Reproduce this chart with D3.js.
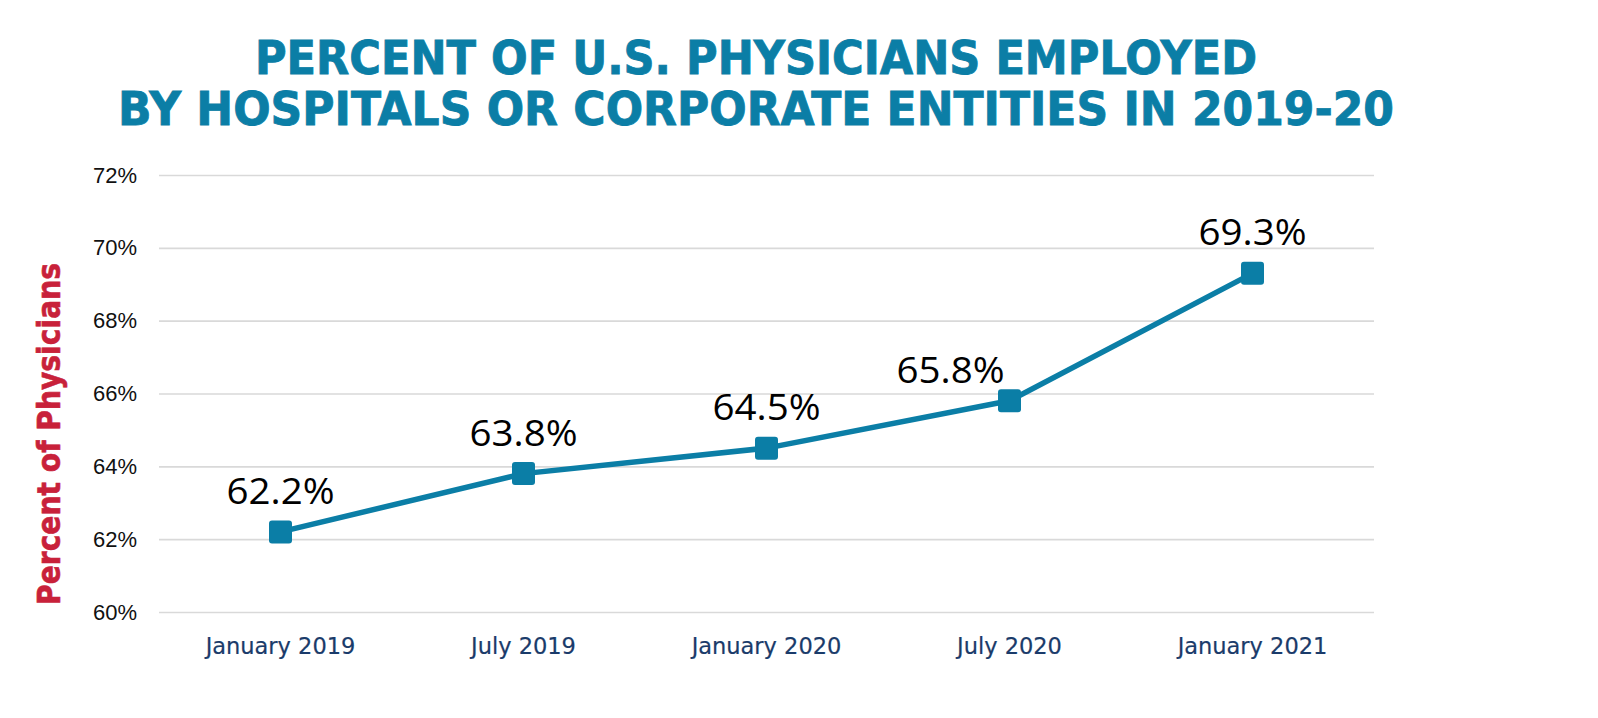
<!DOCTYPE html>
<html>
<head>
<meta charset="utf-8">
<script src="https://cdn.jsdelivr.net/npm/d3@7"></script>
<style>
  html, body { margin: 0; padding: 0; background: #ffffff; }
  svg { display: block; }
</style>
</head>
<body>
<svg id="chart" width="1598" height="718"></svg>
<script>
// ---- data ----
const categories = ["January 2019", "July 2019", "January 2020", "July 2020", "January 2021"];
const values = [62.2, 63.8, 64.5, 65.8, 69.3];
const yTicks = [60, 62, 64, 66, 68, 70, 72];
const titleLines = ["PERCENT OF U.S. PHYSICIANS EMPLOYED", "BY HOSPITALS OR CORPORATE ENTITIES IN 2019-20"];
const yTitle = "Percent of Physicians";

// ---- layout / style ----
const W = 1598, H = 718;
const plot = { left: 159, right: 1374, top: 175, bottom: 612 };
const blue = "#0b7ea6", red = "#c8213a", navy = "#1a3b6a";
// per-label placement (dx, dy of baseline relative to marker centre)
const labelPlacement = [[0, -28], [0, -28], [0, -28], [-59, -18], [0, -28]];

const svg = d3.select("#chart");
svg.append("rect").attr("width", W).attr("height", H).attr("fill", "#fff");

const x = d3.scaleBand().domain(categories).range([plot.left, plot.right]).padding(0);
const y = d3.scaleLinear().domain([60, 72]).range([plot.bottom, plot.top]);
const cx = c => x(c) + x.bandwidth() / 2;

// title
const titleTargets = [1002, 1276];
const titleBase = [74, 125];
titleLines.forEach((t, i) => {
  svg.append("text")
    .attr("x", 756).attr("y", titleBase[i])
    .attr("text-anchor", "middle")
    .attr("font-family", "'DejaVu Sans', Verdana, sans-serif")
    .attr("font-weight", "bold")
    .attr("font-size", 47)
    .attr("fill", blue)
    .attr("stroke", blue)
    .attr("stroke-width", 0.9)
    .attr("textLength", titleTargets[i])
    .attr("lengthAdjust", "spacingAndGlyphs")
    .text(t);
});

// y axis with gridlines
const yAxis = d3.axisLeft(y)
  .tickValues(yTicks)
  .tickSize(-(plot.right - plot.left))
  .tickPadding(22)
  .tickFormat(d => d + "%");
const gy = svg.append("g").attr("transform", `translate(${plot.left},0)`).call(yAxis);
gy.select(".domain").remove();
gy.selectAll(".tick line").attr("stroke", "#d9d9d9").attr("stroke-width", 1.6);
gy.selectAll(".tick text")
  .attr("font-family", "'Liberation Sans', Arial, sans-serif")
  .attr("font-size", 22)
  .attr("fill", "#111");

// x axis
const xAxis = d3.axisBottom(x).tickSize(0).tickPadding(26);
const gx = svg.append("g").attr("transform", `translate(0,${plot.bottom})`).call(xAxis);
gx.select(".domain").remove();
gx.selectAll(".tick text")
  .attr("font-family", "'DejaVu Sans', Tahoma, sans-serif")
  .attr("font-size", 22.5)
  .attr("fill", navy)
  .attr("stroke", navy)
  .attr("stroke-width", 0.2);

// y title
svg.append("text")
  .attr("transform", "translate(60,434) rotate(-90)")
  .attr("text-anchor", "middle")
  .attr("font-family", "'DejaVu Sans', Verdana, sans-serif")
  .attr("font-weight", "bold")
  .attr("font-size", 32)
  .attr("fill", red)
  .attr("stroke", red)
  .attr("stroke-width", 0.6)
  .attr("textLength", 342)
  .attr("lengthAdjust", "spacingAndGlyphs")
  .text(yTitle);

// line
const pts = categories.map((c, i) => ({ c, v: values[i], i }));
svg.append("path")
  .datum(pts)
  .attr("fill", "none")
  .attr("stroke", blue)
  .attr("stroke-width", 5.5)
  .attr("stroke-linejoin", "round")
  .attr("d", d3.line().x(d => cx(d.c)).y(d => y(d.v)));

// markers
const ms = 23;
svg.selectAll("rect.marker").data(pts).enter().append("rect")
  .attr("class", "marker")
  .attr("x", d => cx(d.c) - ms / 2)
  .attr("y", d => y(d.v) - ms / 2)
  .attr("width", ms).attr("height", ms)
  .attr("rx", 3).attr("ry", 3)
  .attr("fill", blue);

// data labels
svg.selectAll("text.lbl").data(pts).enter().append("text")
  .attr("class", "lbl")
  .attr("x", d => cx(d.c) + labelPlacement[d.i][0])
  .attr("y", d => y(d.v) + labelPlacement[d.i][1])
  .attr("text-anchor", "middle")
  .attr("font-family", "'Open Sans', 'Noto Sans', sans-serif")
  .attr("font-size", 37)
  .attr("fill", "#000")
  .attr("textLength", 108)
  .attr("lengthAdjust", "spacingAndGlyphs")
  .text(d => d.v.toFixed(1) + "%");
</script>
</body>
</html>
